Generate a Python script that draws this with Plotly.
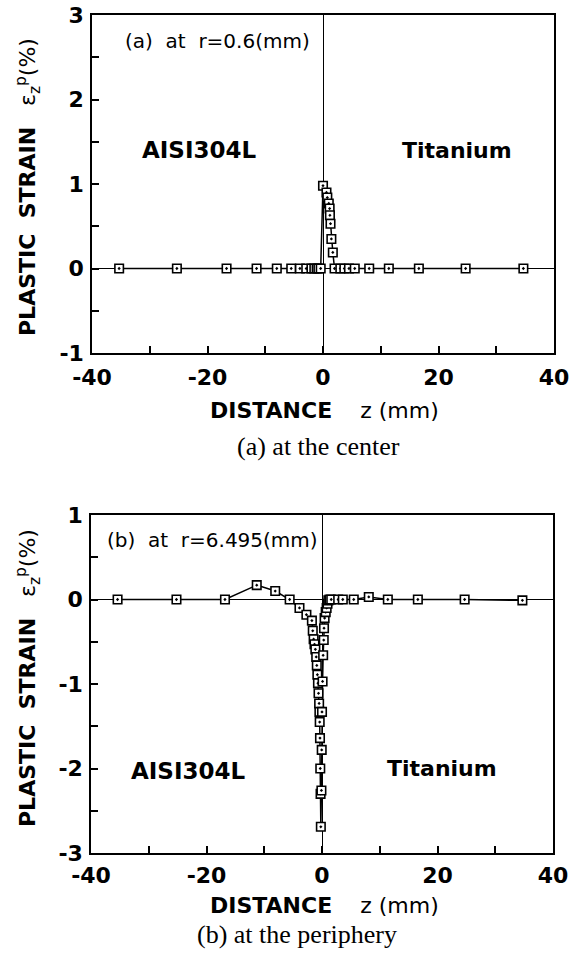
import plotly.graph_objects as go

W, H = 581, 963

# ---------------- data ----------------
# (a) at r = 0.6 mm (center)
z_a = [-35.3, -25.3, -16.7, -11.5, -8.0, -5.5, -4.0, -2.9, -2.0, -1.5, -1.1, -0.8, -0.4,
       0.0, 0.6, 0.75, 1.0, 1.15, 1.2, 1.3, 1.45, 1.7,
       2.0, 3.0, 3.7, 4.5, 5.5, 8.0, 11.4, 16.6, 24.7, 34.7]
eps_a = [0, 0, 0, 0, 0, 0, 0, 0, 0, 0, 0, 0, 0,
         0.98, 0.90, 0.84, 0.77, 0.71, 0.63, 0.53, 0.35, 0.19,
         0, 0, 0, 0, 0, 0, 0, 0, 0, 0]

# (b) at r = 6.495 mm (periphery)
z_b = [-35.4, -25.2, -16.8, -11.3, -8.1, -5.6, -3.9, -2.7,
       -1.75, -1.6, -1.45, -1.3, -1.15, -1.0, -0.9, -0.8, -0.7, -0.6, -0.5, -0.45, -0.4,
       -0.35, -0.3, -0.25, -0.2,
       -0.1, -0.05, 0.0, 0.1, 0.2, 0.3, 0.35, 0.45, 0.64, 0.8, 0.95, 1.1,
       1.3, 1.6, 2.8, 3.6, 5.5, 8.1, 11.4, 16.6, 24.7, 34.7]
eps_b = [0, 0, 0, 0.17, 0.10, 0.0, -0.10, -0.18,
         -0.25, -0.37, -0.47, -0.53, -0.59, -0.68, -0.78, -0.89, -0.99, -1.11, -1.23, -1.33, -1.45,
         -1.64, -2.0, -2.3, -2.69,
         -2.26, -1.78, -1.33, -0.97, -0.66, -0.48, -0.34, -0.22, -0.15, -0.10, -0.05, -0.01,
         0, 0, 0, 0, 0, 0.03, 0, 0, 0, -0.01]

x_tick_vals = [-40, -30, -20, -10, 0, 10, 20, 30, 40]
x_tick_text = ["-40", "", "-20", "", "0", "", "20", "", "40"]
ya_tick_vals = [-1, -0.5, 0, 0.5, 1, 1.5, 2, 2.5, 3]
ya_tick_text = ["-1", "", "0", "", "1", "", "2", "", "3"]
yb_tick_vals = [-3, -2.5, -2, -1.5, -1, -0.5, 0, 0.5, 1]
yb_tick_text = ["-3", "", "-2", "", "-1", "", "0", "", "1"]

# ---------------- figure ----------------
fig = go.Figure()
mk = dict(symbol="square-dot", size=8.5, color="white", line=dict(color="black", width=1.6))
fig.add_trace(go.Scatter(x=z_a, y=eps_a, xaxis="x", yaxis="y", mode="lines+markers",
                         line=dict(color="black", width=1.5), marker=mk, showlegend=False))
fig.add_trace(go.Scatter(x=z_b, y=eps_b, xaxis="x2", yaxis="y2", mode="lines+markers",
                         line=dict(color="black", width=1.5), marker=mk, showlegend=False))

tickfont = dict(family="DejaVu Sans", size=22, color="black", weight="bold")
common = dict(ticks="inside", ticklen=7, tickwidth=1.5, tickcolor="black",
              showline=True, linecolor="black", linewidth=1.5, mirror=True,
              zeroline=True, zerolinecolor="black", zerolinewidth=1.2,
              showgrid=False, tickfont=tickfont, fixedrange=True, automargin=False)

def px_x(p):
    return p / W

def px_y(p):
    return 1 - p / H

fig.update_layout(
    width=W, height=H, margin=dict(l=0, r=0, t=0, b=0, autoexpand=False),
    paper_bgcolor="white", plot_bgcolor="white",
    xaxis=dict(domain=[px_x(92), px_x(554)], range=[-40, 40], anchor="y",
               tickvals=x_tick_vals, ticktext=x_tick_text, ticklabelstandoff=4, **common),
    yaxis=dict(domain=[px_y(353), px_y(15)], range=[-1, 3], anchor="x",
               tickvals=ya_tick_vals, ticktext=ya_tick_text, ticklabelstandoff=2, **common),
    xaxis2=dict(domain=[px_x(91), px_x(553)], range=[-40, 40], anchor="y2",
                tickvals=x_tick_vals, ticktext=x_tick_text, ticklabelstandoff=2, **common),
    yaxis2=dict(domain=[px_y(853), px_y(515)], range=[-3, 1], anchor="x2",
                tickvals=yb_tick_vals, ticktext=yb_tick_text, ticklabelstandoff=2, **common),
)

def ann(text, x, y, size, family="DejaVu Sans", xanchor="center", angle=0, weight="normal"):
    fig.add_annotation(text=text, x=px_x(x), y=px_y(y), xref="paper", yref="paper",
                       xanchor=xanchor, yanchor="middle", showarrow=False, textangle=angle,
                       font=dict(family=family, size=size, color="black", weight=weight))

sp = "\u00a0"
ytitle = f"<b>PLASTIC{sp}{sp}STRAIN</b>{sp}{sp}{sp}ε<sub>z</sub><sup>p</sup>(%)"
xtitle = f"<b>DISTANCE</b>{sp*4}z{sp}(mm)"

# top panel
ann(ytitle, 28, 187, 22, angle=-90)
ann(xtitle, 324, 410, 22)
ann(f"(a){sp}{sp}at{sp}{sp}r=0.6(mm)", 123, 41, 20, xanchor="left")
ann("AISI304L", 140, 150, 23, xanchor="left", weight="bold")
ann("Titanium", 400, 150, 22, xanchor="left", weight="bold")
ann("(a) at the center", 318, 447, 26, family="Liberation Serif")

# bottom panel
ann(ytitle, 28, 678, 22, angle=-90)
ann(xtitle, 324, 905, 22)
ann(f"(b){sp}{sp}at{sp}{sp}r=6.495(mm)", 105, 540, 20, xanchor="left")
ann("AISI304L", 129, 771, 23, xanchor="left", weight="bold")
ann("Titanium", 385, 768, 22, xanchor="left", weight="bold")
ann("(b) at the periphery", 297, 934, 26, family="Liberation Serif")

fig.write_html("out.html")
